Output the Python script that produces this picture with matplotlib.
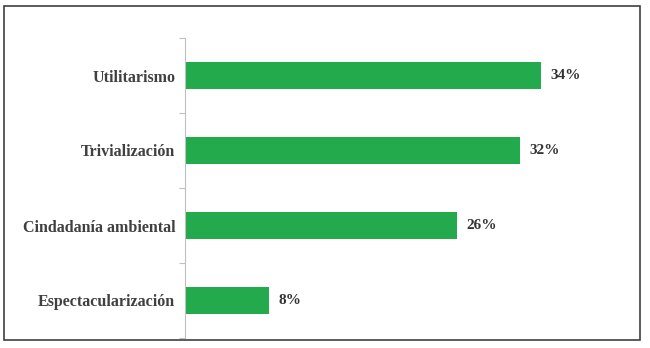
import matplotlib
matplotlib.use('Agg')
import matplotlib.pyplot as plt
from matplotlib.patches import Rectangle

# data
categorias = ["Utilitarismo", "Trivialización", "Cindadanía ambiental", "Espectacularización"]
valores = [34, 32, 26, 8]
etiquetas = ["34%", "32%", "26%", "8%"]

plt.rcParams['font.family'] = ['Liberation Serif', 'DejaVu Serif']

fig = plt.figure(figsize=(6.5, 3.48), dpi=100)
fig.patch.set_facecolor('white')

# marco exterior
fig.patches.append(Rectangle((4/650, 8/348), 636/650, 334/348, transform=fig.transFigure,
                             fill=False, edgecolor='#404040', linewidth=1.2))

ax = fig.add_axes([185/650, 10/348, 419/650, 300/348])
ypos = list(range(len(categorias)))
ax.barh(ypos, valores, height=0.35, color='#22aa4c', edgecolor='none')
ax.set_ylim(len(categorias) - 0.5, -0.5)
ax.set_xlim(0, 40)

for y, v, t in zip(ypos, valores, etiquetas):
    ax.text(v + 0.9, y, t, va='center', ha='left', fontsize=11,
            fontweight='bold', color='#333333')

ax.set_yticks([i - 0.5 for i in range(len(categorias) + 1)], minor=False)
ax.set_yticklabels([])
ax.set_yticks(ypos, minor=True)
ax.set_yticklabels(categorias, minor=True, fontsize=11.5, fontweight='bold', color='#404040')
ax.tick_params(axis='y', which='major', length=4, color='#c0c0c0')
ax.tick_params(axis='y', which='minor', length=0, pad=7)
ax.set_xticks([])
for s in ['top', 'right', 'bottom']:
    ax.spines[s].set_visible(False)
ax.spines['left'].set_color('#c0c0c0')

fig.savefig('out.png', dpi=100)
